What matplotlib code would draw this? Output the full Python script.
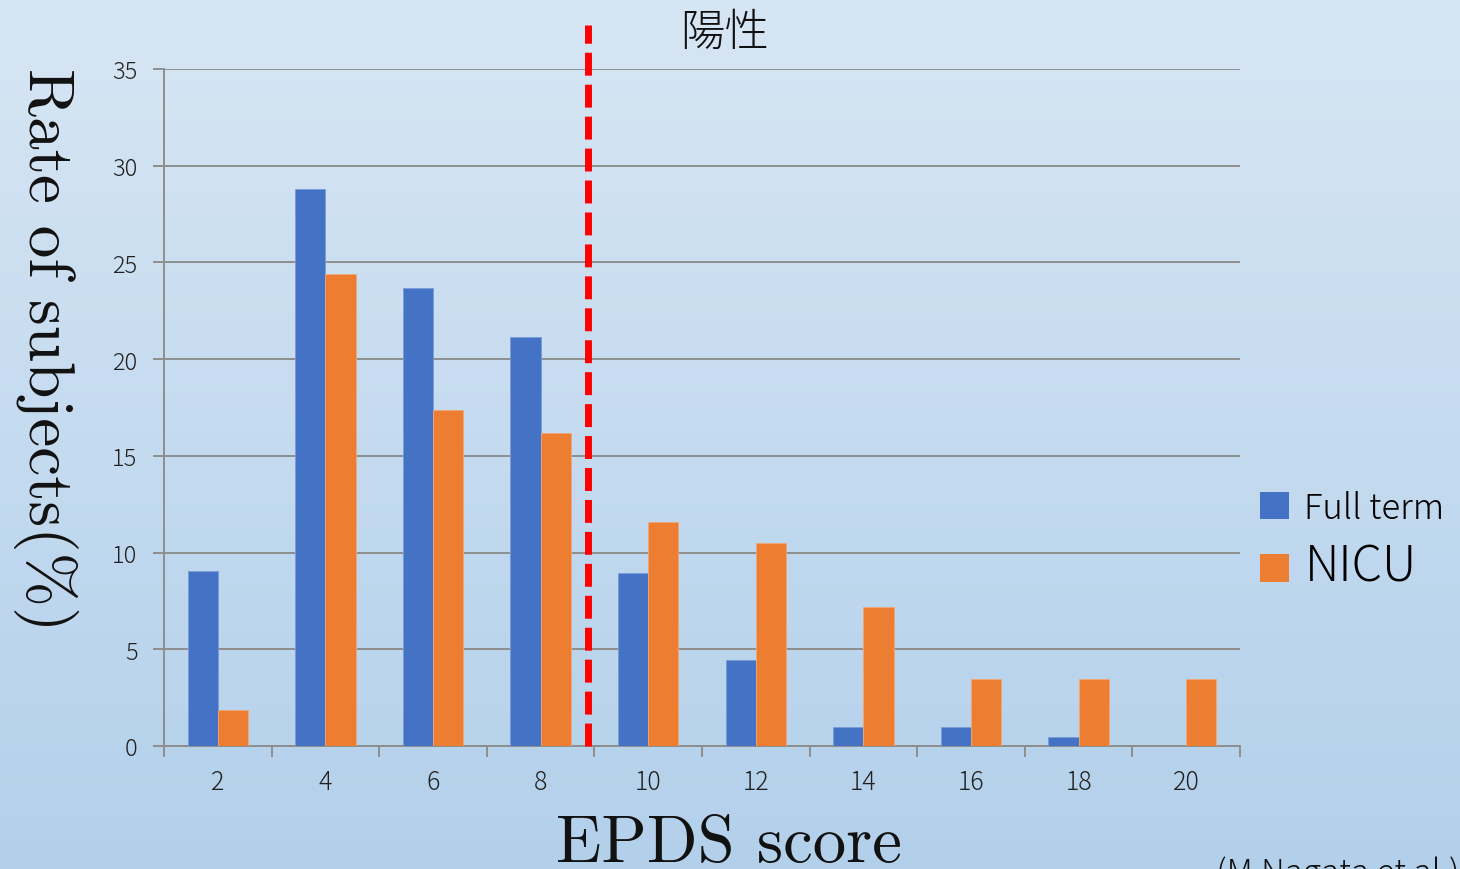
import numpy as np
import matplotlib.pyplot as plt
from matplotlib.colors import LinearSegmentedColormap
from matplotlib.patches import Patch

# EPDS score categories and rate of subjects (%)
scores = ["2", "4", "6", "8", "10", "12", "14", "16", "18", "20"]
full_term = [9.05, 28.8, 23.7, 21.15, 8.95, 4.45, 1.0, 1.0, 0.47, 0.0]
nicu = [1.86, 24.4, 17.37, 16.2, 11.6, 10.5, 7.19, 3.46, 3.46, 3.46]
y_ticks = [0, 5, 10, 15, 20, 25, 30, 35]

# cut-off position between score 8 and 10 (category index)
cutoff_pos = 3.44

BLUE = "#4472c4"
ORANGE = "#ed7d31"
GRID = "#8e8e8e"
JP = ["Noto Sans CJK JP", "DejaVu Sans"]

fig = plt.figure(figsize=(14.6, 8.7), dpi=100)

# background gradient
bg = fig.add_axes([0, 0, 1, 1], zorder=-10)
cmap = LinearSegmentedColormap.from_list("bg", ["#d7e6f4", "#b3d0eb"])
bg.imshow(np.linspace(0, 1, 256).reshape(-1, 1), aspect="auto", cmap=cmap,
          extent=[0, 1, 0, 1])
bg.axis("off")

ax = fig.add_axes([164 / 1460, 1 - 747 / 870, (1240 - 164) / 1460, (747 - 70) / 870])
ax.patch.set_alpha(0)

x = np.arange(len(scores))
w = 0.28
ax.bar(x - w / 2, full_term, w, color=BLUE, edgecolor="#7a9bd6", linewidth=0.6, zorder=3)
ax.bar(x + w / 2, nicu, w, color=ORANGE, edgecolor="#f2a676", linewidth=0.6, zorder=3)

ax.set_xlim(-0.5, len(scores) - 0.5)
ax.set_ylim(0, 35)
ax.set_yticks(y_ticks)
ax.set_yticklabels([str(t) for t in y_ticks])
ax.set_xticks(x)
ax.set_xticklabels(scores)
ax.set_xticks(np.arange(-0.5, len(scores), 1.0), minor=True)

ax.grid(axis="y", color=GRID, linewidth=1.4, zorder=0)
for s in ["top", "right"]:
    ax.spines[s].set_visible(False)
for s in ["left", "bottom"]:
    ax.spines[s].set_color(GRID)
    ax.spines[s].set_linewidth(1.4)

ax.tick_params(axis="y", direction="out", length=8, width=1.4, color=GRID, pad=11,
               labelsize=17, labelcolor="#222222")
ax.tick_params(axis="x", which="major", length=0, pad=16, labelsize=18, labelcolor="#222222")
ax.tick_params(axis="x", which="minor", direction="out", length=8, width=1.4, color=GRID)
for lab in ax.get_xticklabels() + ax.get_yticklabels():
    lab.set_family(JP)
    lab.set_fontweight("light")

# red dashed cut-off line
ax.plot([cutoff_pos, cutoff_pos], [0, 37.3], color="#ff0000", linewidth=5,
        dashes=(3.3, 1.3), solid_capstyle="butt", dash_capstyle="butt",
        clip_on=False, zorder=5)

fig.text(725 / 1460, 1 - 33 / 870, "陽性", ha="center", va="center", fontsize=32,
         family=JP, fontweight="light", color="#111111")

fig.text(45 / 1460, 1 - 350 / 870, "Rate of subjects(%)", rotation=-90, ha="center",
         va="center", fontsize=47, family=["cmr10", "DejaVu Serif"], color="#111111")
fig.text(729 / 1460, 1 - 862 / 870, "EPDS score", ha="center", va="baseline",
         fontsize=48, family=["cmr10", "DejaVu Serif"], color="#111111")

fig.text(1216 / 1460, 1 - 856 / 870, "(M.Nagata et al.)", ha="left", va="top",
         fontsize=24, family=JP, fontweight="light", color="#111111")

handles = [Patch(facecolor=BLUE), Patch(facecolor=ORANGE)]
leg = fig.legend(handles, ["Full term", "NICU"], loc="center left",
                 bbox_to_anchor=(1243 / 1460, 1 - 542 / 870), frameon=False,
                 handlelength=0.82, handleheight=0.82, handletextpad=0.45,
                 labelspacing=0.42, borderpad=0,
                 prop={"family": JP, "size": 25, "weight": "light"})
leg.get_texts()[1].set_fontsize(35)

fig.savefig("out.png", dpi=100)
